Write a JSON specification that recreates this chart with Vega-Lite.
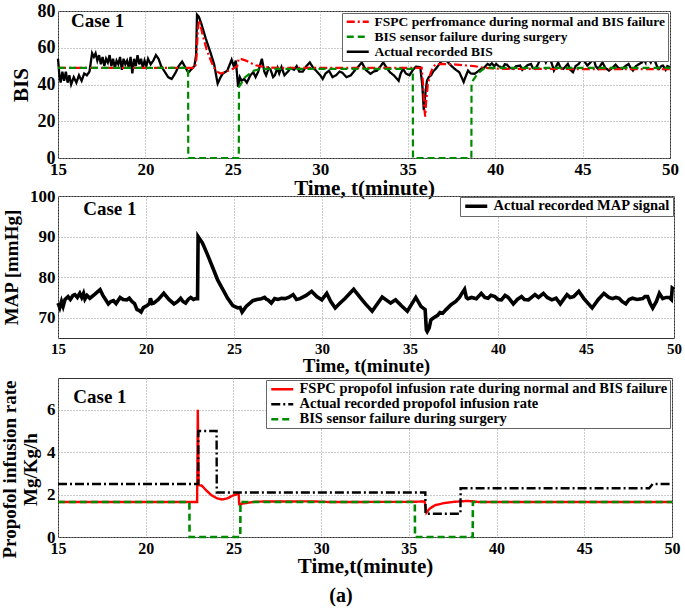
{
  "$schema": "https://vega.github.io/schema/vega-lite/v6.json",
  "padding": {"left": 0, "top": 1, "right": 6, "bottom": 2},
  "background": "white",
  "config": {
    "font": "Liberation Serif",
    "view": {"stroke": "#333", "strokeWidth": 1},
    "axis": {"labelFont": "Liberation Serif", "titleFont": "Liberation Serif", "labelFontWeight": "bold", "titleFontWeight": "bold", "labelColor": "#000", "titleColor": "#000", "domain": false, "ticks": false, "gridColor": "#999", "gridDash": [1, 2], "gridOpacity": 1, "gridWidth": 1, "labelPadding": 3},
    "legend": {"labelFont": "Liberation Serif", "labelFontWeight": "bold", "labelColor": "#000", "labelLimit": 600}
  },
  "datasets": {
    "bis": [
      {"t":15.0,"v":54,"s":"Actual recorded BIS"},{"t":15.08,"v":45,"s":"Actual recorded BIS"},{"t":15.15,"v":41,"s":"Actual recorded BIS"},{"t":15.25,"v":47,"s":"Actual recorded BIS"},{"t":15.35,"v":42,"s":"Actual recorded BIS"},{"t":15.45,"v":47,"s":"Actual recorded BIS"},{"t":15.55,"v":41,"s":"Actual recorded BIS"},{"t":15.65,"v":45,"s":"Actual recorded BIS"},{"t":15.75,"v":40,"s":"Actual recorded BIS"},{"t":15.9,"v":44,"s":"Actual recorded BIS"},{"t":16.05,"v":41,"s":"Actual recorded BIS"},{"t":16.2,"v":45,"s":"Actual recorded BIS"},{"t":16.35,"v":42,"s":"Actual recorded BIS"},{"t":16.5,"v":46,"s":"Actual recorded BIS"},{"t":16.65,"v":45,"s":"Actual recorded BIS"},{"t":16.8,"v":47,"s":"Actual recorded BIS"},{"t":16.95,"v":57,"s":"Actual recorded BIS"},{"t":17.05,"v":55,"s":"Actual recorded BIS"},{"t":17.15,"v":57,"s":"Actual recorded BIS"},{"t":17.25,"v":53,"s":"Actual recorded BIS"},{"t":17.35,"v":56,"s":"Actual recorded BIS"},{"t":17.45,"v":51,"s":"Actual recorded BIS"},{"t":17.55,"v":55,"s":"Actual recorded BIS"},{"t":17.65,"v":50,"s":"Actual recorded BIS"},{"t":17.75,"v":54,"s":"Actual recorded BIS"},{"t":17.85,"v":52,"s":"Actual recorded BIS"},{"t":17.95,"v":56,"s":"Actual recorded BIS"},{"t":18.05,"v":50,"s":"Actual recorded BIS"},{"t":18.15,"v":54,"s":"Actual recorded BIS"},{"t":18.25,"v":49,"s":"Actual recorded BIS"},{"t":18.35,"v":53,"s":"Actual recorded BIS"},{"t":18.45,"v":51,"s":"Actual recorded BIS"},{"t":18.55,"v":55,"s":"Actual recorded BIS"},{"t":18.65,"v":48,"s":"Actual recorded BIS"},{"t":18.75,"v":54,"s":"Actual recorded BIS"},{"t":18.85,"v":51,"s":"Actual recorded BIS"},{"t":18.95,"v":53,"s":"Actual recorded BIS"},{"t":19.05,"v":49,"s":"Actual recorded BIS"},{"t":19.15,"v":55,"s":"Actual recorded BIS"},{"t":19.25,"v":46,"s":"Actual recorded BIS"},{"t":19.35,"v":54,"s":"Actual recorded BIS"},{"t":19.45,"v":50,"s":"Actual recorded BIS"},{"t":19.55,"v":56,"s":"Actual recorded BIS"},{"t":19.65,"v":51,"s":"Actual recorded BIS"},{"t":19.75,"v":54,"s":"Actual recorded BIS"},{"t":19.85,"v":49,"s":"Actual recorded BIS"},{"t":19.95,"v":53,"s":"Actual recorded BIS"},{"t":20.05,"v":50,"s":"Actual recorded BIS"},{"t":20.15,"v":54,"s":"Actual recorded BIS"},{"t":20.3,"v":51,"s":"Actual recorded BIS"},{"t":20.45,"v":53,"s":"Actual recorded BIS"},{"t":20.6,"v":56,"s":"Actual recorded BIS"},{"t":20.75,"v":54,"s":"Actual recorded BIS"},{"t":20.9,"v":50,"s":"Actual recorded BIS"},{"t":21.1,"v":47,"s":"Actual recorded BIS"},{"t":21.3,"v":44,"s":"Actual recorded BIS"},{"t":21.5,"v":43,"s":"Actual recorded BIS"},{"t":21.7,"v":46,"s":"Actual recorded BIS"},{"t":21.9,"v":50,"s":"Actual recorded BIS"},{"t":22.1,"v":52.5,"s":"Actual recorded BIS"},{"t":22.3,"v":49,"s":"Actual recorded BIS"},{"t":22.45,"v":46.5,"s":"Actual recorded BIS"},{"t":22.6,"v":48,"s":"Actual recorded BIS"},{"t":22.8,"v":50,"s":"Actual recorded BIS"},{"t":22.9,"v":56,"s":"Actual recorded BIS"},{"t":22.95,"v":78,"s":"Actual recorded BIS"},{"t":23.05,"v":77,"s":"Actual recorded BIS"},{"t":23.2,"v":73,"s":"Actual recorded BIS"},{"t":23.45,"v":65,"s":"Actual recorded BIS"},{"t":23.7,"v":58,"s":"Actual recorded BIS"},{"t":23.93,"v":51,"s":"Actual recorded BIS"},{"t":24.13,"v":40.5,"s":"Actual recorded BIS"},{"t":24.3,"v":44,"s":"Actual recorded BIS"},{"t":24.43,"v":46,"s":"Actual recorded BIS"},{"t":24.68,"v":47.5,"s":"Actual recorded BIS"},{"t":24.93,"v":53.5,"s":"Actual recorded BIS"},{"t":25.05,"v":50,"s":"Actual recorded BIS"},{"t":25.17,"v":53,"s":"Actual recorded BIS"},{"t":25.3,"v":38.7,"s":"Actual recorded BIS"},{"t":25.4,"v":44,"s":"Actual recorded BIS"},{"t":25.5,"v":42,"s":"Actual recorded BIS"},{"t":25.65,"v":43,"s":"Actual recorded BIS"},{"t":25.8,"v":41,"s":"Actual recorded BIS"},{"t":26.0,"v":45,"s":"Actual recorded BIS"},{"t":26.17,"v":46.7,"s":"Actual recorded BIS"},{"t":26.3,"v":44,"s":"Actual recorded BIS"},{"t":26.45,"v":47,"s":"Actual recorded BIS"},{"t":26.66,"v":54,"s":"Actual recorded BIS"},{"t":26.8,"v":47,"s":"Actual recorded BIS"},{"t":26.9,"v":45,"s":"Actual recorded BIS"},{"t":27.05,"v":49,"s":"Actual recorded BIS"},{"t":27.16,"v":48,"s":"Actual recorded BIS"},{"t":27.3,"v":44,"s":"Actual recorded BIS"},{"t":27.4,"v":45,"s":"Actual recorded BIS"},{"t":27.55,"v":49,"s":"Actual recorded BIS"},{"t":27.65,"v":46,"s":"Actual recorded BIS"},{"t":27.78,"v":49.5,"s":"Actual recorded BIS"},{"t":27.95,"v":45,"s":"Actual recorded BIS"},{"t":28.15,"v":47,"s":"Actual recorded BIS"},{"t":28.3,"v":49,"s":"Actual recorded BIS"},{"t":28.5,"v":48,"s":"Actual recorded BIS"},{"t":28.65,"v":50,"s":"Actual recorded BIS"},{"t":28.8,"v":47,"s":"Actual recorded BIS"},{"t":29.0,"v":47,"s":"Actual recorded BIS"},{"t":29.2,"v":50,"s":"Actual recorded BIS"},{"t":29.4,"v":52,"s":"Actual recorded BIS"},{"t":29.6,"v":49,"s":"Actual recorded BIS"},{"t":29.76,"v":47.5,"s":"Actual recorded BIS"},{"t":30.0,"v":45,"s":"Actual recorded BIS"},{"t":30.14,"v":43,"s":"Actual recorded BIS"},{"t":30.3,"v":46,"s":"Actual recorded BIS"},{"t":30.5,"v":47.5,"s":"Actual recorded BIS"},{"t":30.7,"v":44,"s":"Actual recorded BIS"},{"t":30.9,"v":45,"s":"Actual recorded BIS"},{"t":31.1,"v":47,"s":"Actual recorded BIS"},{"t":31.25,"v":46.5,"s":"Actual recorded BIS"},{"t":31.5,"v":44,"s":"Actual recorded BIS"},{"t":31.75,"v":45,"s":"Actual recorded BIS"},{"t":32.0,"v":48,"s":"Actual recorded BIS"},{"t":32.2,"v":50,"s":"Actual recorded BIS"},{"t":32.37,"v":52,"s":"Actual recorded BIS"},{"t":32.6,"v":48,"s":"Actual recorded BIS"},{"t":32.87,"v":45.8,"s":"Actual recorded BIS"},{"t":33.05,"v":47,"s":"Actual recorded BIS"},{"t":33.24,"v":47.5,"s":"Actual recorded BIS"},{"t":33.45,"v":50,"s":"Actual recorded BIS"},{"t":33.6,"v":52,"s":"Actual recorded BIS"},{"t":33.8,"v":49,"s":"Actual recorded BIS"},{"t":33.98,"v":46.7,"s":"Actual recorded BIS"},{"t":34.2,"v":45,"s":"Actual recorded BIS"},{"t":34.48,"v":42,"s":"Actual recorded BIS"},{"t":34.6,"v":46,"s":"Actual recorded BIS"},{"t":34.73,"v":48.5,"s":"Actual recorded BIS"},{"t":34.9,"v":46,"s":"Actual recorded BIS"},{"t":35.1,"v":45,"s":"Actual recorded BIS"},{"t":35.3,"v":48,"s":"Actual recorded BIS"},{"t":35.47,"v":49.7,"s":"Actual recorded BIS"},{"t":35.72,"v":49.4,"s":"Actual recorded BIS"},{"t":35.84,"v":39,"s":"Actual recorded BIS"},{"t":35.92,"v":26,"s":"Actual recorded BIS"},{"t":36.02,"v":36,"s":"Actual recorded BIS"},{"t":36.1,"v":42,"s":"Actual recorded BIS"},{"t":36.2,"v":44,"s":"Actual recorded BIS"},{"t":36.34,"v":45,"s":"Actual recorded BIS"},{"t":36.45,"v":47,"s":"Actual recorded BIS"},{"t":36.6,"v":48.5,"s":"Actual recorded BIS"},{"t":36.8,"v":51,"s":"Actual recorded BIS"},{"t":36.96,"v":53,"s":"Actual recorded BIS"},{"t":37.2,"v":53.3,"s":"Actual recorded BIS"},{"t":37.4,"v":51,"s":"Actual recorded BIS"},{"t":37.58,"v":49.4,"s":"Actual recorded BIS"},{"t":37.75,"v":48,"s":"Actual recorded BIS"},{"t":37.95,"v":46.7,"s":"Actual recorded BIS"},{"t":38.2,"v":41.4,"s":"Actual recorded BIS"},{"t":38.3,"v":44,"s":"Actual recorded BIS"},{"t":38.45,"v":47.6,"s":"Actual recorded BIS"},{"t":38.6,"v":46,"s":"Actual recorded BIS"},{"t":38.82,"v":45.8,"s":"Actual recorded BIS"},{"t":39.0,"v":47,"s":"Actual recorded BIS"},{"t":39.19,"v":48.5,"s":"Actual recorded BIS"},{"t":39.35,"v":49,"s":"Actual recorded BIS"},{"t":39.57,"v":51.2,"s":"Actual recorded BIS"},{"t":39.7,"v":50.5,"s":"Actual recorded BIS"},{"t":39.81,"v":51.5,"s":"Actual recorded BIS"},{"t":39.95,"v":50,"s":"Actual recorded BIS"},{"t":40.06,"v":51.2,"s":"Actual recorded BIS"},{"t":40.2,"v":50,"s":"Actual recorded BIS"},{"t":40.43,"v":49,"s":"Actual recorded BIS"},{"t":40.55,"v":51,"s":"Actual recorded BIS"},{"t":40.68,"v":50.8,"s":"Actual recorded BIS"},{"t":40.85,"v":49,"s":"Actual recorded BIS"},{"t":41.05,"v":48.5,"s":"Actual recorded BIS"},{"t":41.2,"v":50,"s":"Actual recorded BIS"},{"t":41.43,"v":50.3,"s":"Actual recorded BIS"},{"t":41.55,"v":48,"s":"Actual recorded BIS"},{"t":41.67,"v":49,"s":"Actual recorded BIS"},{"t":41.85,"v":50.5,"s":"Actual recorded BIS"},{"t":42.05,"v":51.2,"s":"Actual recorded BIS"},{"t":42.15,"v":49,"s":"Actual recorded BIS"},{"t":42.3,"v":48.5,"s":"Actual recorded BIS"},{"t":42.45,"v":51,"s":"Actual recorded BIS"},{"t":42.54,"v":53,"s":"Actual recorded BIS"},{"t":42.67,"v":57.4,"s":"Actual recorded BIS"},{"t":42.8,"v":54,"s":"Actual recorded BIS"},{"t":42.9,"v":52,"s":"Actual recorded BIS"},{"t":43.05,"v":55,"s":"Actual recorded BIS"},{"t":43.16,"v":53.8,"s":"Actual recorded BIS"},{"t":43.36,"v":47.6,"s":"Actual recorded BIS"},{"t":43.5,"v":50,"s":"Actual recorded BIS"},{"t":43.6,"v":52,"s":"Actual recorded BIS"},{"t":43.75,"v":49,"s":"Actual recorded BIS"},{"t":43.9,"v":48.5,"s":"Actual recorded BIS"},{"t":44.05,"v":50,"s":"Actual recorded BIS"},{"t":44.16,"v":51.2,"s":"Actual recorded BIS"},{"t":44.3,"v":48,"s":"Actual recorded BIS"},{"t":44.45,"v":46.7,"s":"Actual recorded BIS"},{"t":44.6,"v":50,"s":"Actual recorded BIS"},{"t":44.78,"v":51.2,"s":"Actual recorded BIS"},{"t":44.9,"v":53,"s":"Actual recorded BIS"},{"t":45.02,"v":56.5,"s":"Actual recorded BIS"},{"t":45.15,"v":52,"s":"Actual recorded BIS"},{"t":45.27,"v":50.3,"s":"Actual recorded BIS"},{"t":45.45,"v":52,"s":"Actual recorded BIS"},{"t":45.64,"v":53.8,"s":"Actual recorded BIS"},{"t":45.75,"v":50,"s":"Actual recorded BIS"},{"t":45.89,"v":48.5,"s":"Actual recorded BIS"},{"t":46.0,"v":50,"s":"Actual recorded BIS"},{"t":46.14,"v":52,"s":"Actual recorded BIS"},{"t":46.3,"v":49,"s":"Actual recorded BIS"},{"t":46.51,"v":47.6,"s":"Actual recorded BIS"},{"t":46.7,"v":49,"s":"Actual recorded BIS"},{"t":46.89,"v":50.8,"s":"Actual recorded BIS"},{"t":47.05,"v":49,"s":"Actual recorded BIS"},{"t":47.26,"v":48.5,"s":"Actual recorded BIS"},{"t":47.45,"v":50,"s":"Actual recorded BIS"},{"t":47.63,"v":51.2,"s":"Actual recorded BIS"},{"t":47.75,"v":49,"s":"Actual recorded BIS"},{"t":47.88,"v":47.6,"s":"Actual recorded BIS"},{"t":48.05,"v":50,"s":"Actual recorded BIS"},{"t":48.25,"v":51.2,"s":"Actual recorded BIS"},{"t":48.4,"v":52,"s":"Actual recorded BIS"},{"t":48.5,"v":53.8,"s":"Actual recorded BIS"},{"t":48.6,"v":52,"s":"Actual recorded BIS"},{"t":48.67,"v":57.4,"s":"Actual recorded BIS"},{"t":48.78,"v":54,"s":"Actual recorded BIS"},{"t":48.9,"v":52,"s":"Actual recorded BIS"},{"t":49.0,"v":54,"s":"Actual recorded BIS"},{"t":49.1,"v":53.8,"s":"Actual recorded BIS"},{"t":49.25,"v":50,"s":"Actual recorded BIS"},{"t":49.37,"v":48.5,"s":"Actual recorded BIS"},{"t":49.5,"v":50,"s":"Actual recorded BIS"},{"t":49.6,"v":50.3,"s":"Actual recorded BIS"},{"t":49.75,"v":48,"s":"Actual recorded BIS"},{"t":49.85,"v":50,"s":"Actual recorded BIS"},{"t":50.0,"v":49.4,"s":"Actual recorded BIS"},
      {"t":15,"v":49,"s":"FSPC perfromance during normal and BIS failure"},{"t":22.85,"v":49,"s":"FSPC perfromance during normal and BIS failure"},{"t":22.92,"v":55,"s":"FSPC perfromance during normal and BIS failure"},{"t":23.0,"v":70,"s":"FSPC perfromance during normal and BIS failure"},{"t":23.07,"v":75,"s":"FSPC perfromance during normal and BIS failure"},{"t":23.15,"v":72,"s":"FSPC perfromance during normal and BIS failure"},{"t":23.3,"v":66,"s":"FSPC perfromance during normal and BIS failure"},{"t":23.5,"v":59,"s":"FSPC perfromance during normal and BIS failure"},{"t":23.7,"v":54,"s":"FSPC perfromance during normal and BIS failure"},{"t":23.9,"v":49.5,"s":"FSPC perfromance during normal and BIS failure"},{"t":24.1,"v":47,"s":"FSPC perfromance during normal and BIS failure"},{"t":24.3,"v":46,"s":"FSPC perfromance during normal and BIS failure"},{"t":24.5,"v":46.5,"s":"FSPC perfromance during normal and BIS failure"},{"t":24.75,"v":47.5,"s":"FSPC perfromance during normal and BIS failure"},{"t":25.0,"v":48.5,"s":"FSPC perfromance during normal and BIS failure"},{"t":25.25,"v":50,"s":"FSPC perfromance during normal and BIS failure"},{"t":25.33,"v":54,"s":"FSPC perfromance during normal and BIS failure"},{"t":25.5,"v":53.8,"s":"FSPC perfromance during normal and BIS failure"},{"t":25.75,"v":53,"s":"FSPC perfromance during normal and BIS failure"},{"t":26.0,"v":51.8,"s":"FSPC perfromance during normal and BIS failure"},{"t":26.3,"v":50.5,"s":"FSPC perfromance during normal and BIS failure"},{"t":26.7,"v":49.7,"s":"FSPC perfromance during normal and BIS failure"},{"t":27.2,"v":49.2,"s":"FSPC perfromance during normal and BIS failure"},{"t":28,"v":49,"s":"FSPC perfromance during normal and BIS failure"},{"t":35.8,"v":49,"s":"FSPC perfromance during normal and BIS failure"},{"t":35.88,"v":40,"s":"FSPC perfromance during normal and BIS failure"},{"t":35.95,"v":27,"s":"FSPC perfromance during normal and BIS failure"},{"t":36.0,"v":22.5,"s":"FSPC perfromance during normal and BIS failure"},{"t":36.05,"v":30,"s":"FSPC perfromance during normal and BIS failure"},{"t":36.15,"v":40,"s":"FSPC perfromance during normal and BIS failure"},{"t":36.3,"v":46,"s":"FSPC perfromance during normal and BIS failure"},{"t":36.45,"v":49.5,"s":"FSPC perfromance during normal and BIS failure"},{"t":36.6,"v":51,"s":"FSPC perfromance during normal and BIS failure"},{"t":37.0,"v":51.2,"s":"FSPC perfromance during normal and BIS failure"},{"t":37.6,"v":51,"s":"FSPC perfromance during normal and BIS failure"},{"t":38.2,"v":50.5,"s":"FSPC perfromance during normal and BIS failure"},{"t":38.8,"v":50,"s":"FSPC perfromance during normal and BIS failure"},{"t":39.3,"v":49.2,"s":"FSPC perfromance during normal and BIS failure"},{"t":39.8,"v":48.7,"s":"FSPC perfromance during normal and BIS failure"},{"t":40.5,"v":48.5,"s":"FSPC perfromance during normal and BIS failure"},{"t":50,"v":48.3,"s":"FSPC perfromance during normal and BIS failure"},
      {"t":15,"v":49,"s":"BIS sensor failure during surgery"},{"t":22.44,"v":49,"s":"BIS sensor failure during surgery"},{"t":22.45,"v":0,"s":"BIS sensor failure during surgery"},{"t":25.34,"v":0,"s":"BIS sensor failure during surgery"},{"t":25.35,"v":38.7,"s":"BIS sensor failure during surgery"},{"t":25.7,"v":44,"s":"BIS sensor failure during surgery"},{"t":26.2,"v":47.5,"s":"BIS sensor failure during surgery"},{"t":26.6,"v":48.5,"s":"BIS sensor failure during surgery"},{"t":35.29,"v":48.5,"s":"BIS sensor failure during surgery"},{"t":35.3,"v":0,"s":"BIS sensor failure during surgery"},{"t":38.64,"v":0,"s":"BIS sensor failure during surgery"},{"t":38.65,"v":41,"s":"BIS sensor failure during surgery"},{"t":39.0,"v":46,"s":"BIS sensor failure during surgery"},{"t":39.4,"v":49,"s":"BIS sensor failure during surgery"},{"t":50,"v":49,"s":"BIS sensor failure during surgery"}
    ],
    "map": [
      {"t":15.0,"v":73.6},{"t":15.1,"v":72.5},{"t":15.2,"v":74},{"t":15.29,"v":72.8},{"t":15.4,"v":74.5},{"t":15.57,"v":75.2},{"t":15.7,"v":74.5},{"t":15.85,"v":75.5},{"t":15.96,"v":75.7},{"t":16.1,"v":75},{"t":16.24,"v":76},{"t":16.35,"v":75},{"t":16.45,"v":76},{"t":16.53,"v":74.6},{"t":16.65,"v":75.5},{"t":16.81,"v":74.8},{"t":17.1,"v":75.8},{"t":17.39,"v":76.9},{"t":17.55,"v":75.5},{"t":17.7,"v":74.5},{"t":17.86,"v":73.4},{"t":18.0,"v":74},{"t":18.15,"v":74.2},{"t":18.3,"v":73.5},{"t":18.53,"v":75},{"t":18.7,"v":74.5},{"t":18.91,"v":74.4},{"t":19.05,"v":74.8},{"t":19.2,"v":74},{"t":19.35,"v":73.5},{"t":19.49,"v":72},{"t":19.6,"v":71.8},{"t":19.72,"v":71.4},{"t":19.85,"v":72.5},{"t":20.06,"v":73},{"t":20.2,"v":73.5},{"t":20.25,"v":74.8},{"t":20.35,"v":73.5},{"t":20.44,"v":73.6},{"t":20.7,"v":74.5},{"t":21.01,"v":76},{"t":21.3,"v":74.5},{"t":21.59,"v":73.4},{"t":21.8,"v":74},{"t":21.97,"v":74.8},{"t":22.1,"v":74},{"t":22.25,"v":73.6},{"t":22.4,"v":74.5},{"t":22.54,"v":75},{"t":22.7,"v":74.5},{"t":22.83,"v":74.7},{"t":22.93,"v":74.7},{"t":22.96,"v":90},{"t":23.21,"v":88.4},{"t":23.5,"v":85.5},{"t":23.88,"v":81.4},{"t":24.07,"v":79.3},{"t":24.3,"v":77.5},{"t":24.64,"v":74.8},{"t":24.93,"v":73},{"t":25.21,"v":72.4},{"t":25.35,"v":72.5},{"t":25.46,"v":71.4},{"t":25.69,"v":72.8},{"t":26.07,"v":74.2},{"t":26.3,"v":74.5},{"t":26.55,"v":74.7},{"t":26.74,"v":75},{"t":26.85,"v":74.5},{"t":26.93,"v":74.4},{"t":27.12,"v":73.6},{"t":27.31,"v":74.7},{"t":27.5,"v":74.5},{"t":27.7,"v":74.8},{"t":27.89,"v":74.7},{"t":28.1,"v":75},{"t":28.36,"v":75.7},{"t":28.55,"v":74.5},{"t":28.75,"v":74.7},{"t":29.1,"v":75.5},{"t":29.41,"v":76.5},{"t":29.7,"v":75.2},{"t":29.99,"v":74.4},{"t":30.27,"v":76},{"t":30.5,"v":74},{"t":30.75,"v":72.4},{"t":31.0,"v":73.5},{"t":31.32,"v":74.8},{"t":31.8,"v":77},{"t":32.28,"v":74.4},{"t":32.47,"v":73.4},{"t":32.85,"v":71.6},{"t":33.42,"v":75.1},{"t":33.9,"v":73.6},{"t":34.18,"v":74.4},{"t":34.5,"v":73},{"t":34.85,"v":71.6},{"t":35.33,"v":75},{"t":35.62,"v":72.8},{"t":35.86,"v":72},{"t":35.93,"v":67},{"t":35.98,"v":66.6},{"t":36.09,"v":67.5},{"t":36.19,"v":69.5},{"t":36.35,"v":70},{"t":36.57,"v":70.6},{"t":36.7,"v":71.3},{"t":36.86,"v":71.1},{"t":37.05,"v":72},{"t":37.33,"v":73.2},{"t":37.6,"v":74},{"t":37.81,"v":75},{"t":37.95,"v":76},{"t":38.1,"v":77},{"t":38.2,"v":75},{"t":38.29,"v":74.7},{"t":38.5,"v":75},{"t":38.77,"v":74.7},{"t":39.05,"v":76},{"t":39.25,"v":75},{"t":39.43,"v":74.8},{"t":39.6,"v":75.5},{"t":39.82,"v":75.2},{"t":40.0,"v":74.5},{"t":40.2,"v":74.4},{"t":40.4,"v":75.5},{"t":40.58,"v":75},{"t":40.87,"v":73.4},{"t":41.1,"v":74.5},{"t":41.34,"v":75.2},{"t":41.5,"v":74.5},{"t":41.73,"v":74.4},{"t":42.1,"v":75.7},{"t":42.3,"v":75},{"t":42.58,"v":76},{"t":42.8,"v":75},{"t":43.06,"v":74.4},{"t":43.3,"v":74.8},{"t":43.54,"v":73.4},{"t":43.92,"v":75.7},{"t":44.1,"v":75},{"t":44.3,"v":75.2},{"t":44.59,"v":76.5},{"t":44.88,"v":74.7},{"t":45.35,"v":72.4},{"t":45.7,"v":74.5},{"t":46.02,"v":76},{"t":46.3,"v":75},{"t":46.5,"v":74.7},{"t":46.7,"v":75},{"t":46.88,"v":74.8},{"t":47.05,"v":74},{"t":47.26,"v":73.4},{"t":47.45,"v":74.5},{"t":47.64,"v":74.8},{"t":47.9,"v":74.5},{"t":48.22,"v":74.7},{"t":48.35,"v":75.2},{"t":48.5,"v":75.2},{"t":48.65,"v":73.5},{"t":48.79,"v":72.4},{"t":49.0,"v":74},{"t":49.17,"v":76},{"t":49.36,"v":74.7},{"t":49.55,"v":75},{"t":49.74,"v":75},{"t":49.85,"v":74.5},{"t":49.9,"v":77.3},{"t":50.0,"v":77}
    ],
    "prop": [
      {"t":15,"v":1.65,"s":"FSPC propofol infusion rate during normal and BIS failure"},{"t":22.93,"v":1.65,"s":"FSPC propofol infusion rate during normal and BIS failure"},{"t":22.97,"v":6.0,"s":"FSPC propofol infusion rate during normal and BIS failure"},{"t":23.02,"v":2.45,"s":"FSPC propofol infusion rate during normal and BIS failure"},{"t":23.2,"v":2.42,"s":"FSPC propofol infusion rate during normal and BIS failure"},{"t":23.45,"v":2.2,"s":"FSPC propofol infusion rate during normal and BIS failure"},{"t":23.75,"v":1.97,"s":"FSPC propofol infusion rate during normal and BIS failure"},{"t":24.05,"v":1.83,"s":"FSPC propofol infusion rate during normal and BIS failure"},{"t":24.35,"v":1.77,"s":"FSPC propofol infusion rate during normal and BIS failure"},{"t":24.65,"v":1.82,"s":"FSPC propofol infusion rate during normal and BIS failure"},{"t":24.95,"v":1.95,"s":"FSPC propofol infusion rate during normal and BIS failure"},{"t":25.25,"v":2.03,"s":"FSPC propofol infusion rate during normal and BIS failure"},{"t":25.3,"v":2.02,"s":"FSPC propofol infusion rate during normal and BIS failure"},{"t":25.33,"v":1.55,"s":"FSPC propofol infusion rate during normal and BIS failure"},{"t":25.7,"v":1.6,"s":"FSPC propofol infusion rate during normal and BIS failure"},{"t":26.3,"v":1.67,"s":"FSPC propofol infusion rate during normal and BIS failure"},{"t":29.5,"v":1.68,"s":"FSPC propofol infusion rate during normal and BIS failure"},{"t":30.5,"v":1.65,"s":"FSPC propofol infusion rate during normal and BIS failure"},{"t":35.3,"v":1.66,"s":"FSPC propofol infusion rate during normal and BIS failure"},{"t":35.9,"v":1.68,"s":"FSPC propofol infusion rate during normal and BIS failure"},{"t":35.95,"v":1.4,"s":"FSPC propofol infusion rate during normal and BIS failure"},{"t":36.0,"v":1.15,"s":"FSPC propofol infusion rate during normal and BIS failure"},{"t":36.2,"v":1.35,"s":"FSPC propofol infusion rate during normal and BIS failure"},{"t":36.5,"v":1.5,"s":"FSPC propofol infusion rate during normal and BIS failure"},{"t":37.0,"v":1.6,"s":"FSPC propofol infusion rate during normal and BIS failure"},{"t":37.6,"v":1.66,"s":"FSPC propofol infusion rate during normal and BIS failure"},{"t":38.3,"v":1.7,"s":"FSPC propofol infusion rate during normal and BIS failure"},{"t":38.7,"v":1.68,"s":"FSPC propofol infusion rate during normal and BIS failure"},{"t":39.0,"v":1.65,"s":"FSPC propofol infusion rate during normal and BIS failure"},{"t":50,"v":1.65,"s":"FSPC propofol infusion rate during normal and BIS failure"},
      {"t":15,"v":2.5,"s":"Actual recorded propofol infusion rate"},{"t":22.99,"v":2.5,"s":"Actual recorded propofol infusion rate"},{"t":23.0,"v":5.0,"s":"Actual recorded propofol infusion rate"},{"t":24.04,"v":5.0,"s":"Actual recorded propofol infusion rate"},{"t":24.05,"v":2.1,"s":"Actual recorded propofol infusion rate"},{"t":35.94,"v":2.1,"s":"Actual recorded propofol infusion rate"},{"t":35.95,"v":1.1,"s":"Actual recorded propofol infusion rate"},{"t":37.94,"v":1.1,"s":"Actual recorded propofol infusion rate"},{"t":37.95,"v":2.3,"s":"Actual recorded propofol infusion rate"},{"t":48.7,"v":2.3,"s":"Actual recorded propofol infusion rate"},{"t":48.9,"v":2.5,"s":"Actual recorded propofol infusion rate"},{"t":50,"v":2.5,"s":"Actual recorded propofol infusion rate"},
      {"t":15,"v":1.65,"s":"BIS sensor failure during surgery"},{"t":22.49,"v":1.65,"s":"BIS sensor failure during surgery"},{"t":22.5,"v":0,"s":"BIS sensor failure during surgery"},{"t":25.39,"v":0,"s":"BIS sensor failure during surgery"},{"t":25.4,"v":1.65,"s":"BIS sensor failure during surgery"},{"t":35.34,"v":1.65,"s":"BIS sensor failure during surgery"},{"t":35.35,"v":0,"s":"BIS sensor failure during surgery"},{"t":38.64,"v":0,"s":"BIS sensor failure during surgery"},{"t":38.65,"v":1.65,"s":"BIS sensor failure during surgery"},{"t":50,"v":1.65,"s":"BIS sensor failure during surgery"}
    ]
  },
  "title": {"text": "(a)", "orient": "bottom", "anchor": "middle", "font": "Liberation Serif", "fontSize": 20, "fontWeight": "bold", "color": "#000", "offset": 9},
  "columns": 1,
  "align": "none",
  "spacing": -13,
  "resolve": {"scale": {"color": "independent", "strokeDash": "independent", "x": "independent", "y": "independent"}, "legend": {"color": "independent", "strokeDash": "independent"}},
  "concat": [
    {
      "width": 612,
      "height": 147,
      "encoding": {
        "x": {"field": "t", "type": "quantitative", "scale": {"domain": [15, 50], "nice": false, "zero": false}, "axis": {"values": [15, 20, 25, 30, 35, 40, 45, 50], "title": "Time, t(minute)", "labelFontSize": 17, "titleFontSize": 21, "titlePadding": 0, "labelFlush": false}},
        "y": {"field": "v", "type": "quantitative", "scale": {"domain": [0, 80], "nice": false}, "axis": {"values": [0, 20, 40, 60, 80], "title": "BIS", "labelFontSize": 18, "titleFontSize": 21, "titlePadding": 6}}
      },
      "layer": [
        {
          "data": {"name": "bis"},
          "transform": [{"filter": "datum.s === 'Actual recorded BIS'"}],
          "mark": {"type": "line", "strokeWidth": 2.3, "clip": false},
          "encoding": {
            "color": {"field": "s", "type": "nominal", "scale": {"domain": ["FSPC perfromance during normal and BIS failure", "BIS sensor failure during surgery", "Actual recorded BIS"], "range": ["#ff0000", "#008a00", "#000000"]}, "legend": {"title": null, "orient": "top-right", "offset": 2, "fillColor": "white", "strokeColor": "#666", "padding": 2, "labelFontSize": 13.5, "symbolType": "M-1,0H4.5", "symbolSize": 64, "symbolStrokeWidth": 2.5, "rowPadding": 0, "labelOffset": 17}},
            "strokeDash": {"field": "s", "type": "nominal", "scale": {"domain": ["FSPC perfromance during normal and BIS failure", "BIS sensor failure during surgery", "Actual recorded BIS"], "range": [[8, 3, 2, 3], [7, 4], [1, 0]]}, "legend": {"title": null, "orient": "top-right", "offset": 2, "fillColor": "white", "strokeColor": "#666", "padding": 2, "labelFontSize": 13.5, "symbolType": "M-1,0H4.5", "symbolSize": 64, "symbolStrokeWidth": 2.5, "rowPadding": 0, "labelOffset": 17}}
          }
        },
        {
          "data": {"name": "bis"},
          "transform": [{"filter": "datum.s === 'FSPC perfromance during normal and BIS failure'"}],
          "mark": {"type": "line", "strokeWidth": 2.2, "clip": false},
          "encoding": {
            "color": {"field": "s", "type": "nominal"},
            "strokeDash": {"field": "s", "type": "nominal"}
          }
        },
        {
          "data": {"name": "bis"},
          "transform": [{"filter": "datum.s === 'BIS sensor failure during surgery'"}],
          "mark": {"type": "line", "strokeWidth": 2.2, "clip": false},
          "encoding": {
            "color": {"field": "s", "type": "nominal"},
            "strokeDash": {"field": "s", "type": "nominal"}
          }
        },
        {
          "data": {"values": [{"t": 15.74, "v": 74.6, "txt": "Case 1"}]},
          "mark": {"type": "text", "align": "left", "baseline": "middle", "fontSize": 19, "fontWeight": "bold", "font": "Liberation Serif", "color": "#000"},
          "encoding": {"text": {"field": "txt", "type": "nominal"}}
        }
      ]
    },
    {
      "columns": 1,
      "align": "none",
      "spacing": 1,
      "resolve": {"scale": {"color": "independent", "strokeDash": "independent", "x": "independent", "y": "independent"}, "legend": {"color": "independent", "strokeDash": "independent"}},
      "concat": [
        {
          "width": 616,
          "height": 142,
          "encoding": {
            "x": {"field": "t", "type": "quantitative", "scale": {"domain": [15, 50], "nice": false, "zero": false}, "axis": {"values": [15, 20, 25, 30, 35, 40, 45, 50], "title": "Time, t(minute)", "labelFontSize": 15, "titleFontSize": 19, "titlePadding": 0, "labelFlush": false}},
            "y": {"field": "v", "type": "quantitative", "scale": {"domain": [65, 100], "nice": false, "zero": false}, "axis": {"values": [70, 80, 90, 100], "title": "MAP [mmHg]", "labelFontSize": 17, "titleFontSize": 19, "titlePadding": 8}}
          },
          "layer": [
            {
              "data": {"name": "map"},
              "transform": [{"calculate": "'Actual recorded MAP signal'", "as": "s"}],
              "mark": {"type": "line", "strokeWidth": 3.6, "clip": false},
              "encoding": {
                "color": {"field": "s", "type": "nominal", "scale": {"domain": ["Actual recorded MAP signal"], "range": ["#000000"]}, "legend": {"title": null, "orient": "top-right", "offset": 1, "fillColor": "white", "strokeColor": "#666", "padding": 2, "labelFontSize": 14.5, "symbolType": "M-1,0H4.5", "symbolSize": 64, "symbolStrokeWidth": 3.5, "labelOffset": 17}}
              }
            },
            {
              "data": {"values": [{"t": 16.43, "v": 96.8, "txt": "Case 1"}]},
              "mark": {"type": "text", "align": "left", "baseline": "middle", "fontSize": 19, "fontWeight": "bold", "font": "Liberation Serif", "color": "#000"},
              "encoding": {"text": {"field": "txt", "type": "nominal"}}
            }
          ]
        },
        {
          "width": 614,
          "height": 159,
          "encoding": {
            "x": {"field": "t", "type": "quantitative", "scale": {"domain": [15, 50], "nice": false, "zero": false}, "axis": {"values": [15, 20, 25, 30, 35, 40, 45, 50], "title": "Time,t(minute)", "labelFontSize": 16, "titleFontSize": 21, "titlePadding": -1, "labelFlush": false}},
            "y": {"field": "v", "type": "quantitative", "scale": {"domain": [0, 7.5], "nice": false}, "axis": {"values": [0, 2, 4, 6], "title": ["Propofol infusion rate", "Mg/Kg/h"], "labelFontSize": 17, "titleFontSize": 19, "titlePadding": 6, "titleY": 91}}
          },
          "layer": [
            {
              "data": {"name": "prop"},
              "transform": [{"filter": "datum.s === 'FSPC propofol infusion rate during normal and BIS failure'"}],
              "mark": {"type": "line", "strokeWidth": 2.4, "clip": false},
              "encoding": {
                "color": {"field": "s", "type": "nominal", "scale": {"domain": ["FSPC propofol infusion rate during normal and BIS failure", "Actual recorded propofol infusion rate", "BIS sensor failure during surgery"], "range": ["#ff0000", "#000000", "#008a00"]}, "legend": {"title": null, "orient": "top-right", "offset": 2, "fillColor": "white", "strokeColor": "#666", "padding": 2, "labelFontSize": 14.5, "symbolType": "M-1,0H4.5", "symbolSize": 64, "symbolStrokeWidth": 2.5, "rowPadding": 0, "labelOffset": 17}},
                "strokeDash": {"field": "s", "type": "nominal", "scale": {"domain": ["FSPC propofol infusion rate during normal and BIS failure", "Actual recorded propofol infusion rate", "BIS sensor failure during surgery"], "range": [[1, 0], [9, 3, 2, 3], [7, 4]]}, "legend": {"title": null, "orient": "top-right", "offset": 2, "fillColor": "white", "strokeColor": "#666", "padding": 2, "labelFontSize": 14.5, "symbolType": "M-1,0H4.5", "symbolSize": 64, "symbolStrokeWidth": 2.5, "rowPadding": 0, "labelOffset": 17}}
              }
            },
            {
              "data": {"name": "prop"},
              "transform": [{"filter": "datum.s === 'Actual recorded propofol infusion rate'"}],
              "mark": {"type": "line", "strokeWidth": 2.4, "clip": false},
              "encoding": {
                "color": {"field": "s", "type": "nominal"},
                "strokeDash": {"field": "s", "type": "nominal"}
              }
            },
            {
              "data": {"name": "prop"},
              "transform": [{"filter": "datum.s === 'BIS sensor failure during surgery'"}],
              "mark": {"type": "line", "strokeWidth": 2.6, "clip": false},
              "encoding": {
                "color": {"field": "s", "type": "nominal"},
                "strokeDash": {"field": "s", "type": "nominal"}
              }
            },
            {
              "data": {"values": [{"t": 15.87, "v": 6.6, "txt": "Case 1"}]},
              "mark": {"type": "text", "align": "left", "baseline": "middle", "fontSize": 19, "fontWeight": "bold", "font": "Liberation Serif", "color": "#000"},
              "encoding": {"text": {"field": "txt", "type": "nominal"}}
            }
          ]
        }
      ]
    }
  ]
}
